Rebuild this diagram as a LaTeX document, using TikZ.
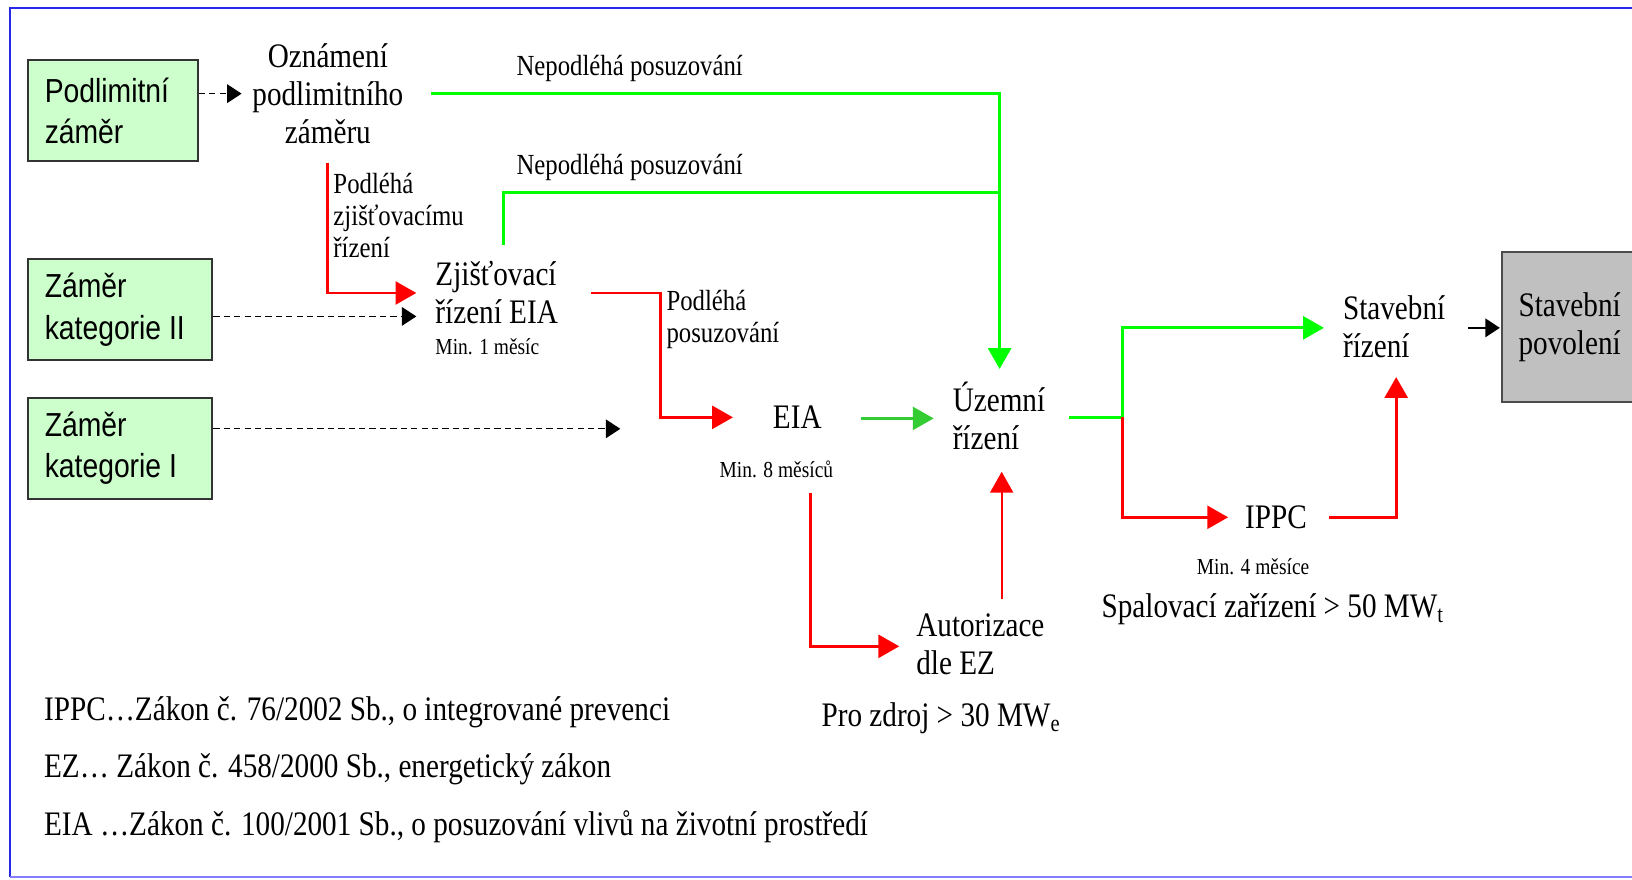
\documentclass[tikz,border=0pt]{standalone}
\usepackage{fontspec}
\setmainfont[FakeStretch=0.85]{Liberation Serif}
\newfontfamily\boxfont[FakeStretch=0.85]{Liberation Sans}
\usetikzlibrary{arrows.meta,calc}

\definecolor{boxgreen}{RGB}{204,255,204}
\definecolor{linegreen}{RGB}{0,255,0}
\definecolor{midgreen}{RGB}{51,204,51}
\definecolor{permitgray}{RGB}{192,192,192}
\definecolor{frameblue}{RGB}{40,40,235}
\definecolor{framelight}{RGB}{135,125,255}

\tikzset{
  natspace/.style={execute at begin node={\spaceskip=0pt\xspaceskip=0pt}},
  txt/.style={inner sep=0pt, font=\fontsize{16.5}{18.25}\selectfont, align=left, natspace},
  lbl/.style={inner sep=0pt, font=\fontsize{14}{15.5}\selectfont, align=left, natspace},
  small/.style={inner sep=0pt, font=\fontsize{11}{12}\selectfont},
  catbox/.style={draw=black!80, line width=1pt, fill=boxgreen,
    font=\boxfont\fontsize{16}{19.75}\selectfont, align=left, natspace,
    inner xsep=8pt, minimum height=48.5pt},
  permit/.style={draw=black!70, line width=1pt, fill=permitgray,
    font=\fontsize{16.5}{18.25}\selectfont, align=left, natspace,
    inner xsep=8pt, minimum height=72pt, text width=84pt},
  bigtip/.style={-{Triangle[length=10pt,width=11pt]}},
  gline/.style={draw=linegreen, line width=1.4pt},
  garrow/.style={gline, bigtip},
  marrow/.style={draw=midgreen, line width=1.4pt, bigtip},
  rarrow/.style={draw=red, line width=1.4pt, bigtip},
  rthin/.style={draw=red, line width=1pt, bigtip},
  dasharrow/.style={draw=black, line width=0.6pt, dash pattern=on 3pt off 2pt,
    -{Triangle[length=7pt,width=9pt]}},
  blackarrow/.style={draw=black, line width=0.8pt, -{Triangle[length=7pt,width=9pt]}},
}

\begin{document}
\begin{tikzpicture}[x=0.5pt,y=-0.5pt]
  \fill[white] (0,0) rectangle (1568,845);
  \useasboundingbox (0,0) rectangle (1568,845);
  \clip (0,0) rectangle (1568,845);

  % outer frame
  \draw[frameblue, line width=1pt] (10,843) -- (10,8) -- (1600,8);
  \draw[framelight, line width=1pt] (10,843) -- (1600,843);

  % project categories
  \node[catbox, text width=65.5pt] (pod) at (108.5,106.5) {Podlimitní\\záměr};
  \node[catbox, text width=72.5pt] (kat2) at (115.5,297.5) {Záměr\\kategorie II};
  \node[catbox, text width=72.5pt] (kat1) at (115.5,430.5) {Záměr\\kategorie I};

  % procedure steps
  \node[txt, align=center] (ozn) at (315,90) {Oznámení\\podlimitního\\záměru};
  \node[txt, anchor=west, text width=62pt] (zjis) at (418,281.5) {Zjišťovací\\řízení EIA};
  \node[small, anchor=west] (zjism) at (418,333) {Min. 1 měsíc};
  \node[txt] (eia) at (766,401) {EIA};
  \node[small] (eiam) at (746,451) {Min. 8 měsíců};
  \node[txt, anchor=west, text width=46pt] (uz) at (915,399.5) {Územní\\řízení};
  \node[txt, anchor=west, text width=50pt] (stav) at (1290,314) {Stavební\\řízení};
  \node[txt] (ippc) at (1226,497) {IPPC};
  \node[small] (ippcm) at (1204,544) {Min. 4 měsíce};
  \node[txt, anchor=west] (spal) at (1058,585) {Spalovací zařízení > 50 MW\textsubscript{t}};
  \node[txt, anchor=west, text width=63pt] (aut) at (880,619) {Autorizace\\dle EZ};
  \node[txt, anchor=west] (zdroj) at (789,690) {Pro zdroj > 30 MW\textsubscript{e}};
  \node[permit, anchor=west] (pov) at (1442,314) {Stavební\\povolení};

  % branch labels
  \node[lbl] (l1) at (605,66) {Nepodléhá posuzování};
  \node[lbl] (l2) at (605,161) {Nepodléhá posuzování};
  \node[lbl, anchor=west] (l3) at (320,207) {Podléhá\\zjišťovacímu\\řízení};
  \node[lbl, anchor=west] (l4) at (640,307) {Podléhá\\posuzování};

  % legend
  \node[txt, anchor=west] (f1) at (42,684) {IPPC…Zákon č. 76/2002 Sb., o integrované prevenci};
  \node[txt, anchor=west] (f2) at (42,739) {EZ… Zákon č. 458/2000 Sb., energetický zákon};
  \node[txt, anchor=west] (f3) at (42,794) {EIA …Zákon č. 100/2001 Sb., o posuzování vlivů na životní prostředí};

  % connectors
  \coordinate (uzin) at ($(uz.north)+(-1,-12)$);
  \coordinate (merge) at (uzin |- 0,185);
  \coordinate (fork) at ($(uz.east)+(71,1.5)$);

  \draw[dasharrow] (pod.east |- ozn.west) -- ($(ozn.west)+(-10,0)$);
  \draw[garrow] ($(ozn.east)+(26,0)$) -| (uzin);
  \draw[gline] ($(zjis.north west)+(66,-16)$) |- (merge);
  \draw[rarrow] ($(ozn.south)+(0,18)$) |- ($(zjis.west)+(-18,0)$);
  \draw[dasharrow] ($(kat2.east)+(0,6.5)$) -- ($(zjis.west)+(-18,22.5)$);
  \draw[rarrow] ($(zjis.east)+(25,0)$) -- ++(67,0) |- ($(eia.west)+(-38,0)$);
  \draw[dasharrow] ($(kat1.east)+(0,-18.5)$) -- ++(391,0);
  \draw[marrow] ($(eia.east)+(37,1)$) -- ($(uz.west)+(-18,2.5)$);
  \draw[gline] ($(uz.east)+(19,1.5)$) -- (fork);
  \draw[garrow] (fork) |- ($(stav.west)+(-18,1)$);
  \draw[rarrow] (fork) |- ($(ippc.west)+(-16,0)$);
  \draw[rarrow] ($(ippc.east)+(21,0)$) -| ($(stav.south)+(1,18)$);
  \draw[blackarrow] ($(stav.east)+(20,1)$) -- ($(pov.west)+(-1,1)$);
  \draw[rarrow] ($(eiam.south)+(33,14)$) |- ($(aut.west)+(-16,2)$);
  \draw[rthin] ($(aut.north)+(19,-14)$) -- ++(0,-122);
\end{tikzpicture}
\end{document}
